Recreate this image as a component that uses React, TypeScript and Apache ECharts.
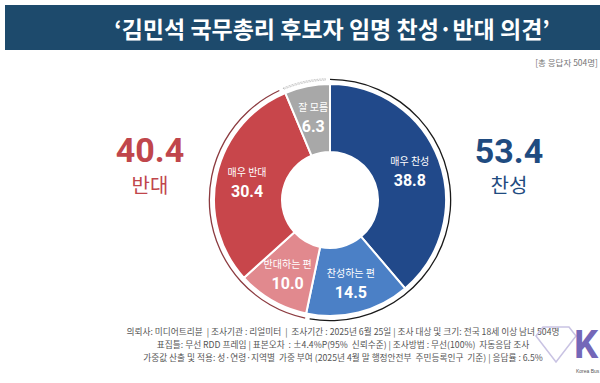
import React, { useEffect, useRef } from "react";
import * as echarts from "echarts";

const title = "‘김민석 국무총리 후보자 임명 찬성·반대 의견’";
const categories = ["매우 찬성", "찬성하는 편", "반대하는 편", "매우 반대", "잘 모름"];
const values = [38.8, 14.5, 10.0, 30.4, 6.3];
const colors = ["#21498a", "#4b80c6", "#e1898e", "#c8464b", "#a8a8a8"];
const groupNames = ["찬성", "반대", "잘 모름"];
const groupTotals = ["53.4", "40.4", "6.3"];
const sampleNote = "[총 응답자 504명]";
const footLines = [
  "의뢰사: 미디어트리뷴  | 조사기관 : 리얼미터  |  조사기간 : 2025년 6월 25일 | 조사 대상 및 크기: 전국 18세 이상 남녀 504명",
  "표집틀: 무선 RDD 프레임 | 표본오차  : ±4.4%P(95%  신뢰수준) | 조사방법 : 무선(100%)  자동응답 조사",
  "가중값 산출 및 적용: 성·연령·지역별  가중 부여 (2025년 4월 말 행정안전부  주민등록인구  기준) | 응답률 : 6.5%",
];

const FONT = "'Noto Sans CJK KR', 'Noto Sans', sans-serif";

export default function App() {
  const ref = useRef<HTMLDivElement>(null);
  useEffect(() => {
    document.body.style.margin = "0";
    const chart = echarts.init(ref.current!, null, { renderer: "svg" });
    const yes = values[0] + values[1];
    const no = values[2] + values[3];
    const dk = values[4];
    const gap = 0.6;
    const arcData = [
      { value: yes - gap, itemStyle: { color: "#1a1a1a" } },
      { value: gap, itemStyle: { color: "transparent" } },
      { value: no - gap, itemStyle: { color: "#8c3b40" } },
      { value: gap, itemStyle: { color: "transparent" } },
      { value: dk - gap, itemStyle: { color: "transparent", borderColor: "#999", borderWidth: 0.8, borderType: "dotted" } },
      { value: gap, itemStyle: { color: "transparent" } },
    ];
    chart.setOption({
      animation: false,
      backgroundColor: "#ffffff",
      textStyle: { fontFamily: FONT },
      graphic: [
        { type: "rect", shape: { x: 5, y: 5, width: 600, height: 45 }, style: { fill: "#1d4a6c" } },
        {
          type: "text", x: 332, y: 28,
          style: { text: title, fill: "#ffffff", font: `bold 23px ${FONT}`, align: "center", verticalAlign: "middle" },
        },
        {
          type: "text", x: 598, y: 62,
          style: { text: sampleNote, fill: "#777", font: `8.5px ${FONT}`, align: "right", verticalAlign: "middle" },
        },
        {
          type: "text", x: 150, y: 150,
          style: { text: groupTotals[1], fill: "#c0464b", font: `bold 34px 'Roboto', ${FONT}`, align: "center", verticalAlign: "middle" },
        },
        {
          type: "text", x: 150, y: 184,
          style: { text: groupNames[1], fill: "#c0464b", font: `20px ${FONT}`, align: "center", verticalAlign: "middle" },
        },
        {
          type: "text", x: 509, y: 151,
          style: { text: groupTotals[0], fill: "#1f4b80", font: `bold 34px 'Roboto', ${FONT}`, align: "center", verticalAlign: "middle" },
        },
        {
          type: "text", x: 509, y: 184,
          style: { text: groupNames[0], fill: "#1f4b80", font: `20px ${FONT}`, align: "center", verticalAlign: "middle" },
        },
        ...footLines.map((t, i) => ({
          type: "text", x: 343, y: 331 + i * 13,
          style: { text: t, fill: "#555", font: `8.7px ${FONT}`, align: "center", verticalAlign: "middle" },
        })),
        {
          type: "polygon",
          shape: { points: [[543, 327], [569, 327], [576, 336], [556, 362], [536, 336]] },
          style: { fill: "none", stroke: "#c9c3e3", lineWidth: 1.5 },
        },
        {
          type: "text", x: 574, y: 345,
          style: { text: "K", fill: "#7467b8", font: `bold 38px 'Roboto', sans-serif`, align: "left", verticalAlign: "middle" },
        },
        {
          type: "text", x: 576, y: 371,
          style: { text: "Korea Bus", fill: "#555", font: `5px sans-serif`, align: "left", verticalAlign: "middle" },
        },
      ],
      series: [
        {
          type: "pie",
          center: [330, 200],
          radius: [48, 116],
          startAngle: 90,
          clockwise: true,
          itemStyle: { borderColor: "#ffffff", borderWidth: 2 },
          label: {
            show: true,
            position: "inside",
            formatter: (p: any) => `{n|${p.name}}\n{v|${Number(p.value).toFixed(1)}}`,
            rich: {
              n: { color: "#ffffff", fontSize: 10, fontFamily: FONT, lineHeight: 20 },
              v: { color: "#ffffff", fontSize: 16, fontWeight: "bold", fontFamily: "Roboto, sans-serif", lineHeight: 20 },
            },
          },
          labelLine: { show: false },
          emphasis: { disabled: true },
          data: categories.map((c, i) => ({ name: c, value: values[i], itemStyle: { color: colors[i] } })),
        },
        {
          type: "pie",
          center: [330, 200],
          radius: [120, 121.3],
          startAngle: 90,
          clockwise: true,
          silent: true,
          label: { show: false },
          labelLine: { show: false },
          data: arcData,
        },
      ],
    });
    return () => chart.dispose();
  }, []);
  return <div ref={ref} style={{ position: "fixed", left: 0, top: 0, width: 600, height: 383 }} />;
}
